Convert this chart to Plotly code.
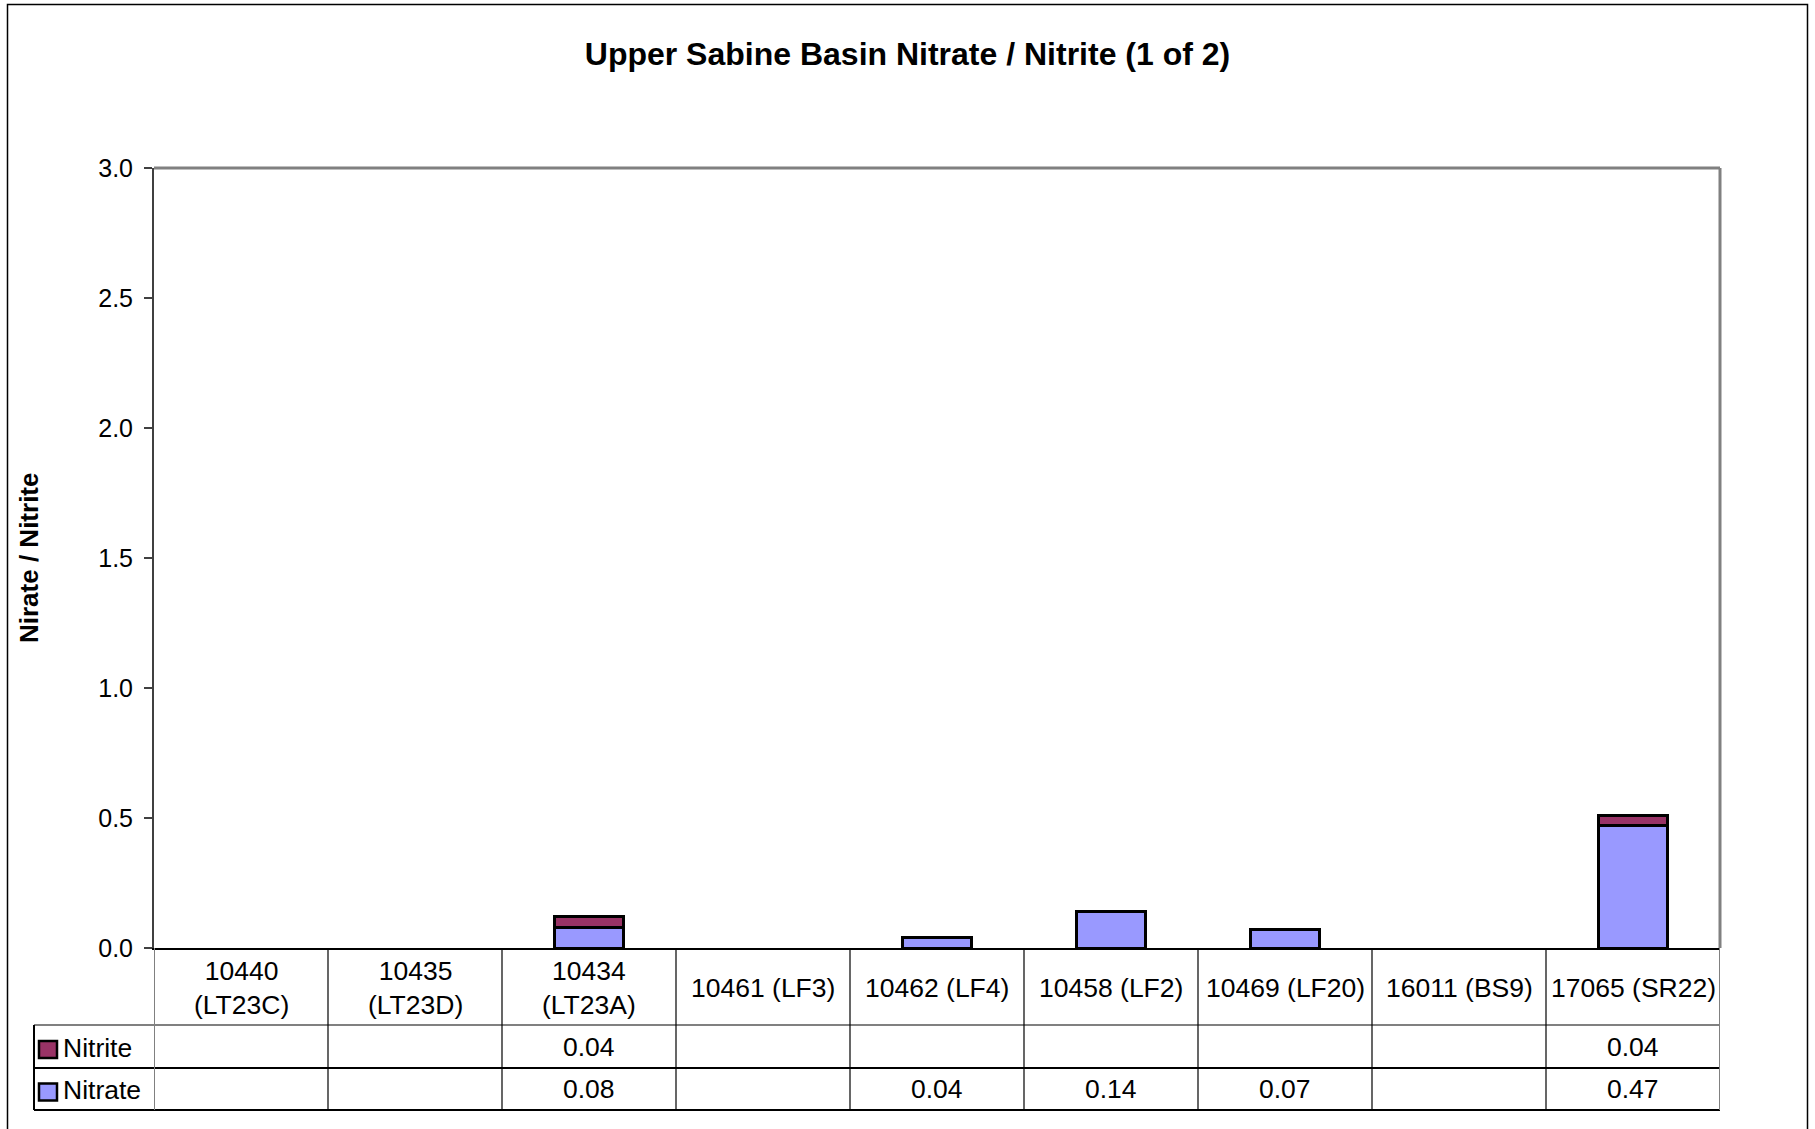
import plotly.graph_objects as go

# ---------------- data ----------------
stations = ["10440 (LT23C)", "10435 (LT23D)", "10434 (LT23A)", "10461 (LF3)", "10462 (LF4)",
            "10458 (LF2)", "10469 (LF20)", "16011 (BS9)", "17065 (SR22)"]
station_labels = ["10440<br>(LT23C)", "10435<br>(LT23D)", "10434<br>(LT23A)", "10461 (LF3)", "10462 (LF4)",
                  "10458 (LF2)", "10469 (LF20)", "16011 (BS9)", "17065 (SR22)"]
nitrate = [None, None, 0.08, None, 0.04, 0.14, 0.07, None, 0.47]
nitrite = [None, None, 0.04, None, None, None, None, None, 0.04]
y_ticks = [0.0, 0.5, 1.0, 1.5, 2.0, 2.5, 3.0]
series = [("Nitrite", nitrite, "#993366"), ("Nitrate", nitrate, "#9999FF")]

# ---------------- geometry (page pixels) ----------------
W, H = 1815, 1129
L, R, T, B = 154, 1720, 168, 948          # plot area
PW, PH = R - L, B - T
FONT = "Liberation Sans, Arial, sans-serif"


def px(xp):
    return (xp - L) / PW


def py(yp):
    return (B - yp) / PH


fig = go.Figure()
fig.add_trace(go.Bar(x=stations, y=nitrate, name="Nitrate",
                     marker=dict(color="#9999FF", line=dict(color="black", width=3)), width=0.4))
fig.add_trace(go.Bar(x=stations, y=nitrite, name="Nitrite",
                     marker=dict(color="#993366", line=dict(color="black", width=3)), width=0.4))

shapes = []
annotations = []

row_cat = (B, 1025)
row_nitrite = (1025, 1068)
row_nitrate = (1068, 1110)
tab_left = 34

for yp, col in [(1025, "#808080"), (1068, "black"), (1110, "black")]:
    shapes.append(dict(type="line", xref="paper", yref="paper", x0=px(tab_left), x1=1, y0=py(yp), y1=py(yp),
                       line=dict(color=col, width=2)))
for i in range(len(stations) + 1):
    edge = i in (0, len(stations))
    shapes.append(dict(type="line", xref="x", yref="paper", x0=i - 0.5, x1=i - 0.5, y0=py(B), y1=py(1110),
                       line=dict(color="#808080" if edge else "black", width=2 if edge else 1.2)))
shapes.append(dict(type="line", xref="paper", yref="paper", x0=px(tab_left), x1=px(tab_left), y0=py(1025), y1=py(1110),
                   line=dict(color="black", width=2)))

for s, lab in zip(stations, station_labels):
    annotations.append(dict(x=s, xref="x", y=py((row_cat[0] + row_cat[1]) / 2 + 1), yref="paper", text=lab,
                            showarrow=False, font=dict(family=FONT, size=26.5, color="black"), yanchor="middle"))

for (name, vals, colr), row in zip(series, [row_nitrite, row_nitrate]):
    yc = (row[0] + row[1]) / 2
    for s, v in zip(stations, vals):
        if v is not None:
            annotations.append(dict(x=s, xref="x", y=py(yc), yref="paper", text=f"{v:.2f}", showarrow=False,
                                    font=dict(family=FONT, size=26.5, color="black"), yanchor="middle"))
    shapes.append(dict(type="rect", xref="paper", yref="paper", x0=px(39), x1=px(57),
                       y0=py(yc + 3 - 8.5), y1=py(yc + 3 + 8.5),
                       fillcolor=colr, line=dict(color="black", width=2.5)))
    annotations.append(dict(x=px(61), xref="paper", y=py(yc + 1), yref="paper", text=name, showarrow=False,
                            xanchor="left", yanchor="middle", font=dict(family=FONT, size=26.5, color="black")))

shapes.append(dict(type="line", xref="paper", yref="paper", x0=0, x1=1, y0=1, y1=1,
                   line=dict(color="#808080", width=3)))
shapes.append(dict(type="line", xref="paper", yref="paper", x0=1, x1=1, y0=0, y1=1,
                   line=dict(color="#808080", width=3)))

# outer chart border
shapes.append(dict(type="rect", xref="paper", yref="paper", x0=px(7.5), x1=px(1807.5), y0=py(1140), y1=py(4.5),
                   line=dict(color="black", width=1.5), fillcolor="rgba(0,0,0,0)"))

annotations.append(dict(x=px(29), xref="paper", y=py(558), yref="paper", text="<b>Nirate / Nitrite</b>",
                        textangle=-90, showarrow=False, font=dict(family=FONT, size=26, color="black"),
                        xanchor="center", yanchor="middle"))

fig.update_layout(
    width=W, height=H,
    margin=dict(l=L, r=W - R, t=T, b=H - B, autoexpand=False),
    paper_bgcolor="white", plot_bgcolor="white",
    barmode="stack", showlegend=False,
    title=dict(text="<b>Upper Sabine Basin Nitrate / Nitrite (1 of 2)</b>", xref="container", x=0.5,
               xanchor="center", yref="container", y=1 - 54 / H, yanchor="middle",
               font=dict(family=FONT, size=32, color="black")),
    xaxis=dict(type="category", range=[-0.5, len(stations) - 0.5], showticklabels=False, showgrid=False,
               zeroline=False, showline=True, linecolor="black", linewidth=2, ticks=""),
    yaxis=dict(range=[0, 3], tickvals=y_ticks, ticktext=[f"{v:.1f}" for v in y_ticks], showgrid=False,
               zeroline=False, showline=True, linecolor="#404040", linewidth=2, ticks="outside", ticklen=8,
               tickwidth=1.5, tickcolor="#404040", tickfont=dict(family=FONT, size=25, color="black"),
               ticklabelstandoff=6),
    shapes=shapes, annotations=annotations,
)

fig.write_html("out.html", config={"displayModeBar": False},
               post_script="document.body.style.margin='0';document.body.style.overflow='hidden';")
